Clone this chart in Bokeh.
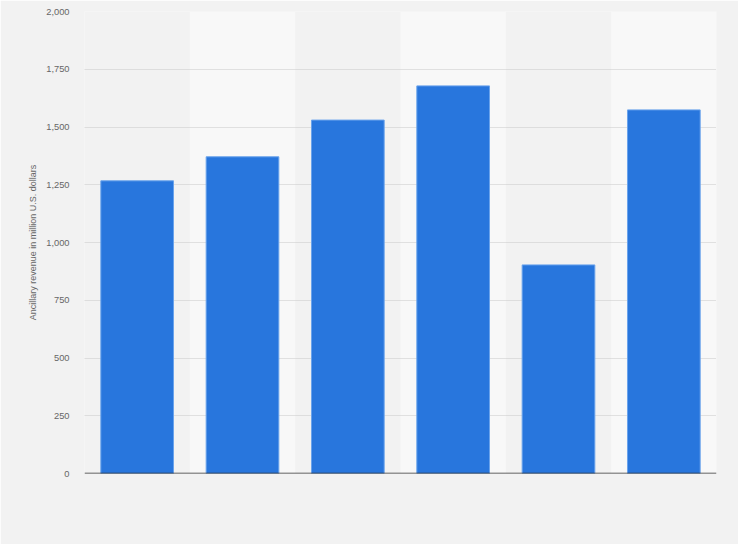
from bokeh.plotting import figure
from bokeh.models import FactorRange, Range1d, FixedTicker, NumeralTickFormatter, Span
from bokeh.embed import file_html
from bokeh.resources import INLINE

# Data
categories = ["2015", "2016", "2017", "2018", "2019", "2020"]
revenue = [1267, 1371, 1530, 1678, 903, 1574]
y_ticks = [0, 250, 500, 750, 1000, 1250, 1500, 1750, 2000]
y_label = "Ancillary revenue in million U.S. dollars"

BG = "#f2f2f2"
FONT = "Liberation Sans"

p = figure(
    x_range=FactorRange(*categories, range_padding=0),
    y_range=Range1d(0, 2000),
    frame_width=632, frame_height=462,
    min_border_left=84, min_border_right=22,
    min_border_top=11, min_border_bottom=71,
    x_axis_location=None,
    output_backend="svg", toolbar_location=None,
    background_fill_color=BG, border_fill_color=BG,
    outline_line_color=None,
)

# alternating column bands
band_cats = categories[1::2]
p.vbar(x=band_cats, width=1.0, bottom=0, top=2000,
       fill_color="#f8f8f8", line_color=None, level="image")

# bars
p.vbar(x=categories, width=0.69, bottom=0, top=revenue,
       fill_color="#2876dd", line_color="#6aa3ec", line_width=1)

# baseline
p.add_layout(Span(location=0, dimension="width", line_color="#333333", line_width=1.5))

p.xgrid.grid_line_color = None
p.ygrid.ticker = FixedTicker(ticks=y_ticks)
p.ygrid.grid_line_color = "#c8c8c8"
p.ygrid.grid_line_dash = "1 1"
p.ygrid.grid_line_width = 1

ax = p.yaxis[0]
ax.ticker = FixedTicker(ticks=y_ticks)
ax.formatter = NumeralTickFormatter(format="0,0")
ax.axis_line_color = None
ax.major_tick_line_color = None
ax.minor_tick_line_color = None
ax.major_tick_out = 0
ax.major_label_standoff = 15
ax.major_label_text_font = FONT
ax.major_label_text_font_size = "9.3px"
ax.major_label_text_color = "#666666"
ax.axis_label = y_label
ax.axis_label_text_font = FONT
ax.axis_label_text_font_size = "9px"
ax.axis_label_text_font_style = "normal"
ax.axis_label_text_color = "#666666"
ax.axis_label_standoff = 5

open("out.html", "w").write(file_html(p, INLINE))
